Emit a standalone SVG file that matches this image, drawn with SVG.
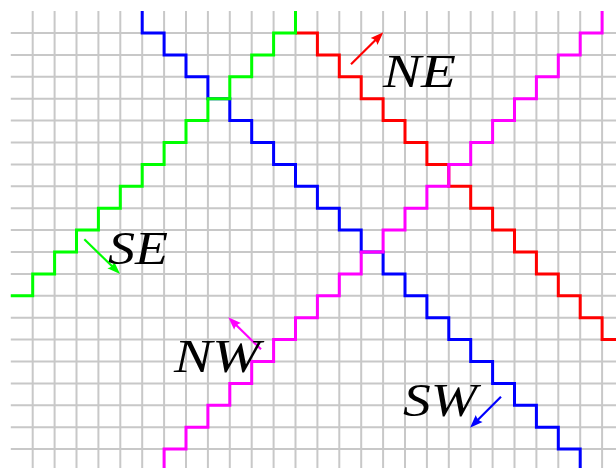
<svg xmlns="http://www.w3.org/2000/svg" width="616" height="468" viewBox="0 0 616 468">
<style>
.grid{stroke:#c8c8c8;stroke-width:2;fill:none}
.step{fill:none;stroke-width:3;stroke-linejoin:miter;stroke-linecap:butt}
.arr{fill:none;stroke-width:2.2}
.lbl{font-family:"Liberation Serif","Times New Roman",serif;font-style:italic;font-size:47px;fill:#000}
</style>
<defs>
<marker id="mr" markerUnits="userSpaceOnUse" viewBox="-8 -6 16 12" refX="0" refY="0" markerWidth="16" markerHeight="12" orient="auto"><path d="M6,0 L-7,-4.8 Q-4,0 -7,4.8 Z" fill="#ff0000"/></marker>
<marker id="mg" markerUnits="userSpaceOnUse" viewBox="-8 -6 16 12" refX="0" refY="0" markerWidth="16" markerHeight="12" orient="auto"><path d="M6,0 L-7,-4.8 Q-4,0 -7,4.8 Z" fill="#00ff00"/></marker>
<marker id="mm" markerUnits="userSpaceOnUse" viewBox="-8 -6 16 12" refX="0" refY="0" markerWidth="16" markerHeight="12" orient="auto"><path d="M6,0 L-7,-4.8 Q-4,0 -7,4.8 Z" fill="#ff00ff"/></marker>
<marker id="mb" markerUnits="userSpaceOnUse" viewBox="-8 -6 16 12" refX="0" refY="0" markerWidth="16" markerHeight="12" orient="auto"><path d="M6,0 L-7,-4.8 Q-4,0 -7,4.8 Z" fill="#0000ff"/></marker>
</defs>
<rect width="616" height="468" fill="#ffffff"/>
<g id="grid">
<path class="grid" d="M32.7 11.1V468M54.6 11.1V468M76.5 11.1V468M98.4 11.1V468M120.3 11.1V468M142.2 11.1V468M164.1 11.1V468M186 11.1V468M207.9 11.1V468M229.8 11.1V468M251.7 11.1V468M273.6 11.1V468M295.5 11.1V468M317.4 11.1V468M339.3 11.1V468M361.2 11.1V468M383.1 11.1V468M405 11.1V468M426.9 11.1V468M448.8 11.1V468M470.7 11.1V468M492.6 11.1V468M514.5 11.1V468M536.4 11.1V468M558.3 11.1V468M580.2 11.1V468M602.1 11.1V468"/>
<path class="grid" d="M10.8 33H616M10.8 54.9H616M10.8 76.8H616M10.8 98.7H616M10.8 120.6H616M10.8 142.5H616M10.8 164.4H616M10.8 186.3H616M10.8 208.2H616M10.8 230.1H616M10.8 252H616M10.8 273.9H616M10.8 295.8H616M10.8 317.7H616M10.8 339.6H616M10.8 361.5H616M10.8 383.4H616M10.8 405.3H616M10.8 427.2H616M10.8 449.1H616"/>
</g>
<g id="connectors">
<g id="path-blue">
<polyline class="step" stroke="#0000ff" points="142.2,11.1 142.2,33 164.1,33 164.1,54.9 186,54.9 186,76.8 207.9,76.8 207.9,98.7 229.8,98.7 229.8,120.6 251.7,120.6 251.7,142.5 273.6,142.5 273.6,164.4 295.5,164.4 295.5,186.3 317.4,186.3 317.4,208.2 339.3,208.2 339.3,230.1 361.2,230.1 361.2,252 383.1,252 383.1,273.9 405,273.9 405,295.8 426.9,295.8 426.9,317.7 448.8,317.7 448.8,339.6 470.7,339.6 470.7,361.5 492.6,361.5 492.6,383.4 514.5,383.4 514.5,405.3 536.4,405.3 536.4,427.2 558.3,427.2 558.3,449.1 580.2,449.1 580.2,471"/>
</g>
<g id="path-red">
<polyline class="step" stroke="#ff0000" points="295.5,33 317.4,33 317.4,54.9 339.3,54.9 339.3,76.8 361.2,76.8 361.2,98.7 383.1,98.7 383.1,120.6 405,120.6 405,142.5 426.9,142.5 426.9,164.4 448.8,164.4 448.8,186.3 470.7,186.3 470.7,208.2 492.6,208.2 492.6,230.1 514.5,230.1 514.5,252 536.4,252 536.4,273.9 558.3,273.9 558.3,295.8 580.2,295.8 580.2,317.7 602.1,317.7 602.1,339.6 624,339.6"/>
</g>
<g id="path-green">
<polyline class="step" stroke="#00ff00" points="10.8,295.8 32.7,295.8 32.7,273.9 54.6,273.9 54.6,252 76.5,252 76.5,230.1 98.4,230.1 98.4,208.2 120.3,208.2 120.3,186.3 142.2,186.3 142.2,164.4 164.1,164.4 164.1,142.5 186,142.5 186,120.6 207.9,120.6 207.9,98.7 229.8,98.7 229.8,76.8 251.7,76.8 251.7,54.9 273.6,54.9 273.6,33 295.5,33 295.5,11.1"/>
</g>
<g id="path-magenta">
<polyline class="step" stroke="#ff00ff" points="164.1,471 164.1,449.1 186,449.1 186,427.2 207.9,427.2 207.9,405.3 229.8,405.3 229.8,383.4 251.7,383.4 251.7,361.5 273.6,361.5 273.6,339.6 295.5,339.6 295.5,317.7 317.4,317.7 317.4,295.8 339.3,295.8 339.3,273.9 361.2,273.9 361.2,252 383.1,252 383.1,230.1 405,230.1 405,208.2 426.9,208.2 426.9,186.3 448.8,186.3 448.8,164.4 470.7,164.4 470.7,142.5 492.6,142.5 492.6,120.6 514.5,120.6 514.5,98.7 536.4,98.7 536.4,76.8 558.3,76.8 558.3,54.9 580.2,54.9 580.2,33 602.1,33 602.1,11.1"/>
</g>
</g>
<g id="arrow-ne"><line class="arr" stroke="#ff0000" x1="351" y1="64.3" x2="379.06" y2="36.54" marker-end="url(#mr)"/><text class="lbl" x="383" y="87" textLength="73" lengthAdjust="spacingAndGlyphs">NE</text></g>
<g id="arrow-se"><line class="arr" stroke="#00ff00" x1="84.3" y1="239.3" x2="115.76" y2="269.76" marker-end="url(#mg)"/><text class="lbl" x="108" y="264" textLength="60" lengthAdjust="spacingAndGlyphs">SE</text></g>
<g id="arrow-nw"><line class="arr" stroke="#ff00ff" x1="261" y1="349.3" x2="232.54" y2="321.54" marker-end="url(#mm)"/><text class="lbl" x="174" y="371.5" textLength="86" lengthAdjust="spacingAndGlyphs">NW</text></g>
<g id="arrow-sw"><line class="arr" stroke="#0000ff" x1="501" y1="396.7" x2="474.24" y2="423.46" marker-end="url(#mb)"/><text class="lbl" x="403" y="416" textLength="74" lengthAdjust="spacingAndGlyphs">SW</text></g>
</svg>
